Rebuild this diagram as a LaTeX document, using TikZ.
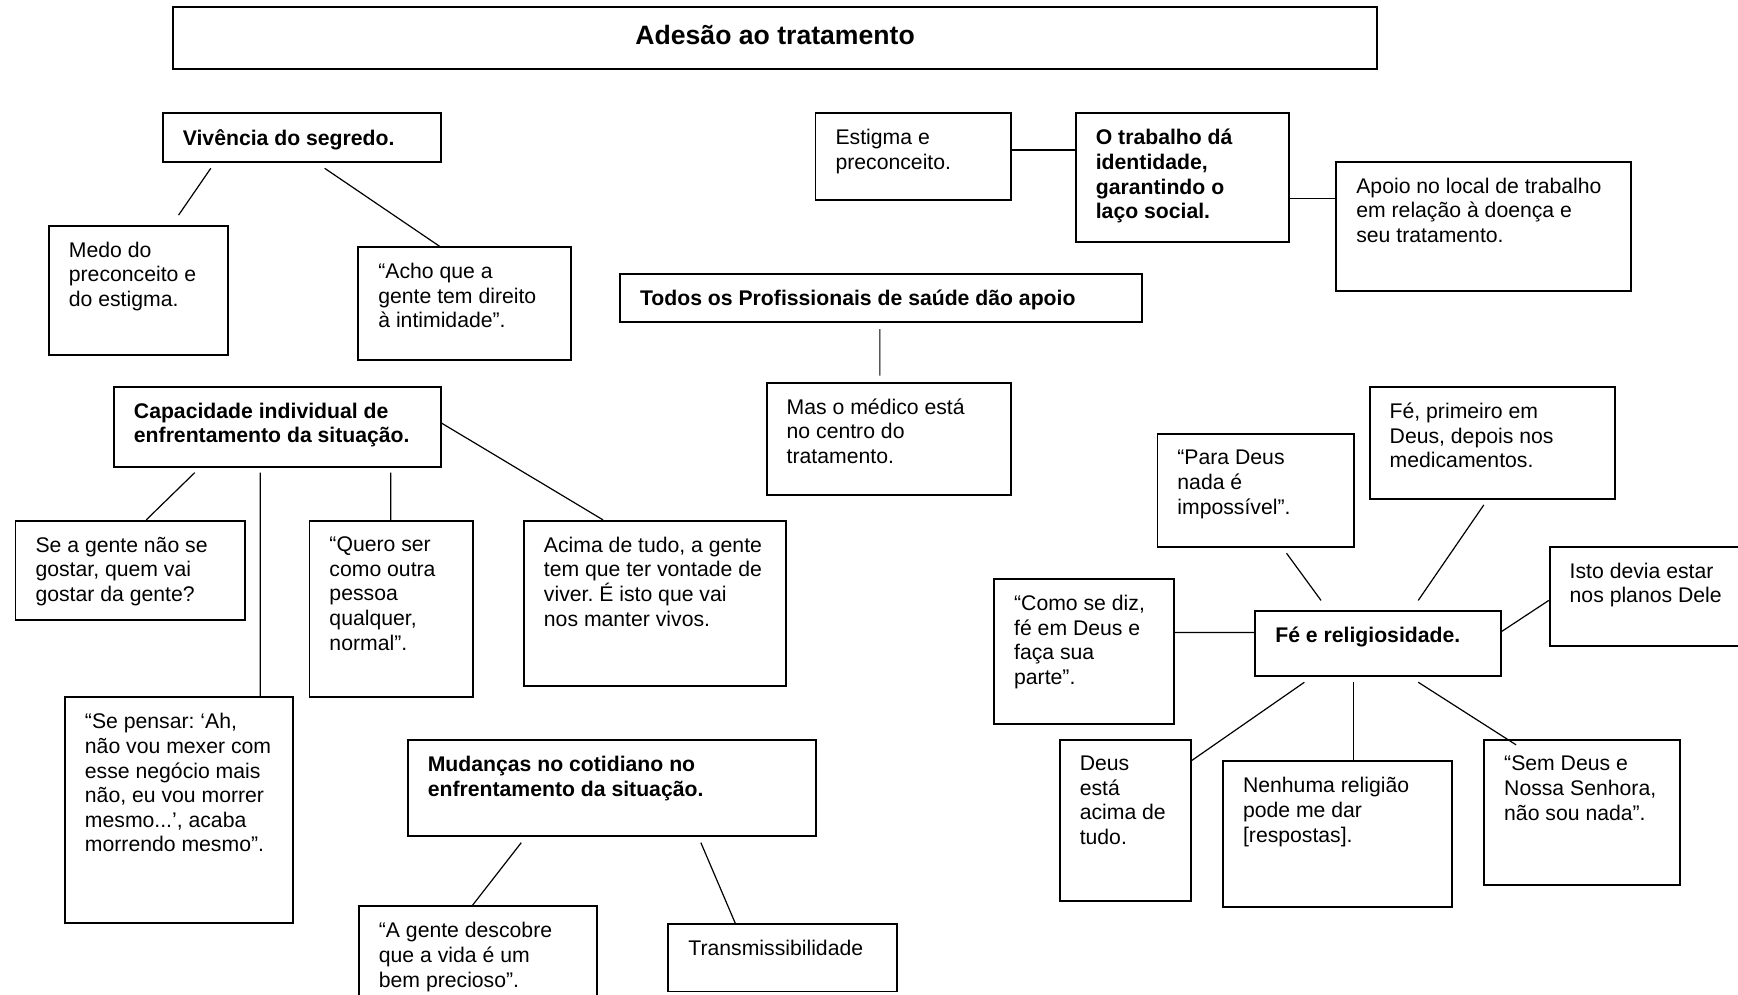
\documentclass[tikz,border=0pt]{standalone}
\usepackage{fontspec}
\setmainfont{Liberation Sans}
\usetikzlibrary{fit}
\frenchspacing
\tikzset{
  box/.style={draw, line width=0.9pt, inner sep=0pt, rectangle},
  txt/.style={anchor=north west, inner sep=0pt, align=left, font=\fontsize{10.6}{12.3}\selectfont},
  btxt/.style={anchor=north west, inner sep=0pt, align=left, font=\fontsize{10.6}{12.3}\selectfont\bfseries},
  conn/.style={line width=0.6pt},
}
\newcommand\tbox[7]{%
  \node[box, fit={(#3,#4) (#5,#6)}] (#1) {};
  \node[#2] (#1-t) at ([shift={(18.5,15)}]#1.north west) {#7};
}
\begin{document}
\begin{tikzpicture}[x=0.55421pt,y=-0.55421pt]
\useasboundingbox (0,0) rectangle (1568,897);
\fill[white] (0,0) rectangle (1568,897);
\clip (0,0) rectangle (1568,897);

% title
\node[box, fit={(156.4,6.6) (1242.2,62.3)}] (title) {};
\node[inner sep=0pt, font=\fontsize{13.3}{15}\selectfont\bfseries] (title-t) at (699.3,31.5) {Adesão ao tratamento};

% left part
\tbox{viv}{btxt}{146.9}{102.2}{397.5}{145.9}{Vivência do segredo.}
\tbox{medo}{txt}{44.1}{203.6}{206}{320.3}{Medo do\\preconceito e\\do estigma.}
\tbox{acho}{txt}{323.3}{223.1}{515.3}{325.1}{“Acho que a\\gente tem direito\\à intimidade”.}
\tbox{cap}{btxt}{102.8}{348.9}{397.5}{421.1}{Capacidade individual de\\enfrentamento da situação.}
\tbox{sea}{txt}{14}{469.8}{221}{559.1}{Se a gente não se\\gostar, quem vai\\gostar da gente?}
\tbox{quero}{txt}{279.2}{469.8}{427}{629.1}{“Quero ser\\como outra\\pessoa\\qualquer,\\normal”.}
\tbox{acima}{txt}{472.7}{469.8}{708.8}{619.2}{Acima de tudo, a gente\\tem que ter vontade de\\viver. É isto que vai\\nos manter vivos.}
\tbox{sep}{txt}{58.6}{629.1}{264.6}{832.8}{“Se pensar: ‘Ah,\\não vou mexer com\\esse negócio mais\\não, eu vou morrer\\mesmo...’, acaba\\morrendo mesmo”.}
\tbox{mud}{btxt}{367.9}{667.6}{736.3}{754.5}{Mudanças no cotidiano no\\enfrentamento da situação.}
\tbox{agente}{txt}{323.8}{817.7}{538.8}{930}{“A gente descobre\\que a vida é um\\bem precioso”.}
\tbox{trans}{txt}{603}{833.6}{809}{894.5}{Transmissibilidade}

% middle
\tbox{todos}{btxt}{559.4}{247.2}{1030.2}{290.8}{Todos os Profissionais de saúde dão apoio}
\tbox{mas}{txt}{691.7}{345.2}{912.4}{446.6}{Mas o médico está\\no centro do\\tratamento.}
\tbox{est}{txt}{735.8}{102.2}{912.4}{180.4}{Estigma e\\preconceito.}
\tbox{trab}{btxt}{970.6}{102.2}{1162.6}{218.6}{O trabalho dá\\identidade,\\garantindo o\\laço social.}
\tbox{apoio}{txt}{1205.6}{145.9}{1471.8}{262.3}{Apoio no local de trabalho\\em relação à doença e\\seu tratamento.}

% right part
\tbox{para}{txt}{1044.2}{391.8}{1221.7}{493.8}{“Para Deus\\nada é\\impossível”.}
\tbox{fep}{txt}{1235.7}{348.9}{1457.2}{450.2}{Fé, primeiro em\\Deus, depois nos\\medicamentos.}
\tbox{isto}{txt}{1398.1}{493.2}{1610}{582.5}{Isto devia estar\\nos planos Dele}
\tbox{como}{txt}{896.9}{522.4}{1059.3}{653.2}{“Como se diz,\\fé em Deus e\\faça sua\\parte”.}
\tbox{fe}{btxt}{1132.5}{551.5}{1354}{609.9}{Fé e religiosidade.}
\tbox{deus}{txt}{956.1}{667.6}{1074.4}{812.6}{Deus\\está\\acima de\\tudo.}
\tbox{nenh}{txt}{1103.4}{686.9}{1309.9}{818}{Nenhuma religião\\pode me dar\\{}[respostas].}
\tbox{sem}{txt}{1339}{667.6}{1515.4}{798.2}{“Sem Deus e\\Nossa Senhora,\\não sou nada”.}

% connectors
\draw[conn] ([shift={(44.1,5.1)}]viv.south west) -- ([shift={(117.8,-8.7)}]medo.north west);
\draw[conn] ([shift={(146.8,5.1)}]viv.south west) -- ([shift={(74.2,0)}]acho.north west);
\draw[conn] ([shift={(73.7,4.5)}]cap.south west) -- ([shift={(118.8,0)}]sea.north west);
\draw[conn] ([shift={(132.8,4.5)}]cap.south west) -- ([shift={(177,0)}]sep.north west);
\draw[conn] ([shift={(250.6,4.5)}]cap.south west) -- ([shift={(74.2,0)}]quero.north west);
\draw[conn] ([shift={(0,33.6)}]cap.north east) -- ([shift={(72.1,0)}]acima.north west);
\draw[conn] ([shift={(103.2,4.9)}]mud.south west) -- ([shift={(103.2,0)}]agente.north west);
\draw[conn] ([shift={(265.2,4.9)}]mud.south west) -- ([shift={(61.1,0)}]trans.north west);
\draw[conn] ([shift={(235.2,5.4)}]todos.south west) -- ([shift={(102.9,-5.4)}]mas.north west);
\draw[conn] ([shift={(0,34)}]est.north east) -- ([shift={(0,34)}]trab.north west);
\draw[conn] ([shift={(0,77.6)}]trab.north east) -- ([shift={(0,33.9)}]apoio.north west);
\draw[conn] ([shift={(117.3,4.5)}]para.south west) -- ([shift={(60.1,-9)}]fe.north west);
\draw[conn] ([shift={(103.8,4.5)}]fep.south west) -- ([shift={(147.8,-9)}]fe.north west);
\draw[conn] ([shift={(0,49.3)}]isto.north west) -- ([shift={(0,19)}]fe.north east);
\draw[conn] ([shift={(0,49)}]como.north east) -- ([shift={(0,19.9)}]fe.north west);
\draw[conn] ([shift={(45.1,4.8)}]fe.south west) -- ([shift={(0,19.3)}]deus.north east);
\draw[conn] ([shift={(89.7,4.8)}]fe.south west) -- ([shift={(118.8,0)}]nenh.north west);
\draw[conn] ([shift={(147.8,4.8)}]fe.south west) -- ([shift={(29.6,5.2)}]sem.north west);
\end{tikzpicture}
\end{document}
